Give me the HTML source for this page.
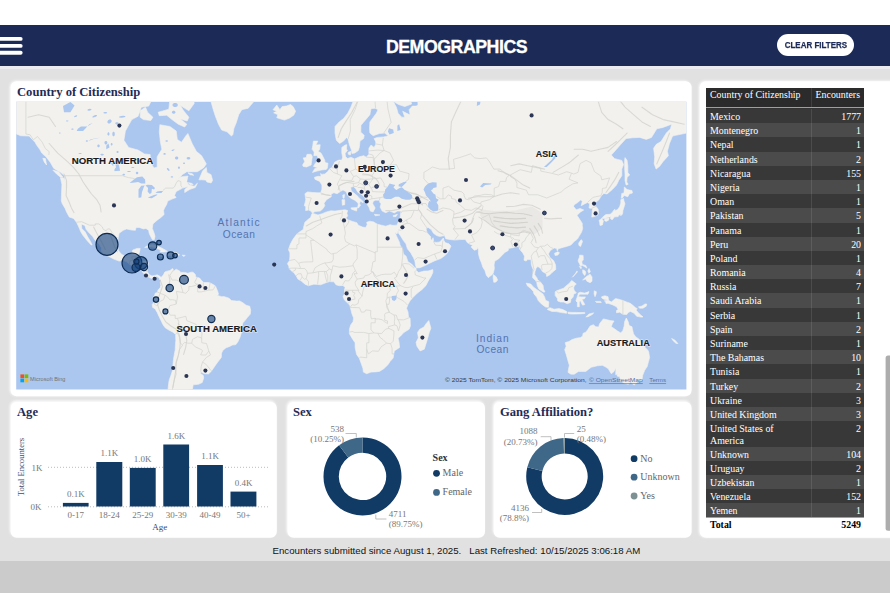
<!DOCTYPE html>
<html lang="en">
<head>
<meta charset="utf-8">
<title>Demographics</title>
<style>
*{box-sizing:border-box;margin:0;padding:0}
html,body{width:890px;height:593px;overflow:hidden;background:#fff}
body{position:relative;font-family:"Liberation Sans",sans-serif}
.abs{position:absolute}
#bg1{left:0;top:66px;width:890px;height:495px;background:#e1e1e1}
#bg2{left:0;top:561px;width:890px;height:32px;background:#cbcbcb}
#hdr{left:0;top:25px;width:890px;height:41px;background:#1b2a56}
.bar{position:absolute;left:-2px;width:24px;height:3.7px;border-radius:2px;background:#fff}
#ttl{left:0;width:890px;top:35.8px;-webkit-text-stroke:.3px #fff;text-align:center;color:#fff;font-weight:bold;font-size:17.8px;line-height:22px;letter-spacing:-0.5px;padding-left:23px}
#btn{left:777px;top:34px;width:77px;height:22px;border-radius:11px;background:#fff;color:#1b2a56;font-weight:bold;font-size:9.2px;line-height:22.6px;text-align:center;white-space:nowrap;-webkit-text-stroke:.25px #1b2a56}
.card{position:absolute;background:#fff;border-radius:6px}
.h{position:absolute;font-family:"Liberation Serif",serif;font-weight:bold;font-size:12.6px;line-height:14px;color:#1f2b55;white-space:nowrap}
.ser{font-family:"Liberation Serif",serif}
/* table */
#tbl{left:706px;top:88px;width:158px;font-family:"Liberation Serif",serif;font-size:9.9px;color:#fff}
#th{height:19.5px;background:#2b2b2b;border-bottom:1px solid #7aa7d6;position:relative;line-height:12px}
#th .c1{position:absolute;left:4px;top:1px}
#th .c2{position:absolute;right:4px;top:1px}
#th:after,.ra:after,.rb:after{content:"";position:absolute;left:105px;top:0;bottom:0;width:1px;background:rgba(255,255,255,.10)}
.ra,.rb{position:relative;height:14.2px;line-height:15.3px;white-space:nowrap;overflow:hidden}
#sp{height:1.5px;background:#333}
.ra{background:#383838}.rb{background:#4b4b4b}
.ra .c1,.rb .c1{position:absolute;left:4px;top:0}
.ra .c2,.rb .c2{position:absolute;right:3px;top:0}
.dbl{height:25.4px;line-height:12.2px;white-space:normal}
.dbl .c1{top:1.6px}.dbl .c2{top:1.6px}
#tot{position:relative;height:14px;line-height:14px;color:#000;font-weight:bold;background:#fff;border-top:1px solid #7aa7d6}
#tot .c1{position:absolute;left:4px}#tot .c2{position:absolute;right:3px}
#sb{left:885px;top:357px;width:5px;height:173px;background:#b3b3b3}
/* chart text */
.t{position:absolute;font-family:"Liberation Serif",serif;font-size:9px;line-height:10px;color:#777;white-space:nowrap}
.lg{position:absolute;font-family:"Liberation Serif",serif;font-size:10px;line-height:12px;color:#666;white-space:nowrap}
.brr{position:absolute;background:#113a65}
.grid{position:absolute;left:48px;width:222px;height:0;border-top:1px dotted #b9b9b9}
#foot{left:0;top:544px;width:890px;font-size:9.69px;line-height:13px;color:#111;white-space:pre;padding-left:272.5px}
svg text{font-family:"Liberation Sans",sans-serif}
</style>
</head>
<body>
<div class="abs" id="bg1"></div>
<div class="abs" id="bg2"></div>
<div class="abs" id="hdr"></div>
<div class="abs" style="left:0;top:66px;width:890px;height:3px;background:#ebebf0"></div>
<div class="abs" id="ttl">DEMOGRAPHICS</div>
<div class="abs" id="btn"><span style="display:inline-block;transform:scaleX(.868);transform-origin:50% 50%;margin:0 -8px">CLEAR FILTERS</span></div>

<!-- cards + map -->
<svg class="abs" style="left:0;top:0" width="890" height="593" viewBox="0 0 890 593">
<filter id="cs1" x="-5%" y="-5%" width="110%" height="110%"><feDropShadow dx="-0.9" dy="-0.4" stdDeviation="0.8" flood-color="#fff" flood-opacity=".9"/></filter>
<filter id="cs2" x="-5%" y="-8%" width="110%" height="116%"><feDropShadow dx="-0.9" dy="-1.5" stdDeviation="0.9" flood-color="#fff" flood-opacity=".9"/></filter>
<g fill="#fff" filter="url(#cs1)">
<rect x="10.7" y="81.3" width="680.9" height="314.9" rx="6"/>
<rect x="699.8" y="81.3" width="210" height="456.5" rx="6"/>
</g>
<g fill="#fff" filter="url(#cs2)">
<rect x="10.7" y="402.1" width="266.1" height="135.7" rx="6"/>
<rect x="287.5" y="402.1" width="197.5" height="135.7" rx="6"/>
<rect x="493.7" y="402.1" width="197.9" height="135.7" rx="6"/>
</g>
<g fill="#fff"><rect x="-3" y="36.9" width="25.6" height="3.9" rx="1.9"/><rect x="-3" y="43.95" width="25.6" height="3.9" rx="1.9"/><rect x="-3" y="50.8" width="25.6" height="3.9" rx="1.9"/></g>
<path d="M48 467.3H270M48 506.8H270" stroke="#bcbcbc" stroke-width="1" stroke-dasharray="1 2" fill="none"/>
<g fill="#113a65"><rect x="62.9" y="502.9" width="25.7" height="3.6"/><rect x="96.3" y="462.0" width="26.0" height="44.5"/><rect x="129.8" y="467.9" width="25.9" height="38.6"/><rect x="163.3" y="444.5" width="25.8" height="62.0"/><rect x="197.1" y="465.0" width="25.8" height="41.5"/><rect x="230.5" y="491.6" width="25.9" height="14.9"/></g>
<rect x="885.6" y="355.4" width="8" height="175.4" rx="2.5" fill="#adadad"/>
<clipPath id="mc"><rect x="16.2" y="101.7" width="670.2" height="287.8"/></clipPath>
<g clip-path="url(#mc)">
<rect x="0" y="90" width="700" height="310" fill="#abc7ef"/>
<filter id="bl" x="0" y="0" width="890" height="593" filterUnits="userSpaceOnUse"><feGaussianBlur stdDeviation="0.45"/></filter>
<g filter="url(#bl)">
<path d="M-31.3 109.2L-22.8 104.5L-18.6 101.9L-27.0 94.6L-18.6 82.6L-6.9 76.2L6.8 81.4L25.9 86.9L38.6 88.8L53.4 83.3L66.1 85.7L80.9 96.3L95.8 95.2L112.7 97.4L121.2 94.6L124.3 72.8L129.6 87.6L138.1 96.3L142.3 97.4L150.8 86.9L152.3 99.1L148.7 106.1L141.3 107.2L138.1 116.2L131.8 119.6L125.4 131.0L123.9 140.2L128.6 147.4L138.1 150.1L144.5 153.9L150.2 154.6L150.4 162.2L154.0 168.1L157.2 167.0L157.2 156.8L161.8 149.3L160.3 141.5L159.3 131.8L159.9 124.7L169.9 126.5L176.2 131.0L177.3 139.4L181.5 142.3L185.7 136.1L187.9 133.5L192.1 143.5L196.3 151.3L201.6 155.7L206.3 163.9L203.7 167.7L197.4 171.7L186.8 171.7L182.6 174.4L177.3 179.5L180.4 176.9L187.9 176.0L186.8 181.4L188.9 185.1L194.2 186.3L197.4 183.2L195.3 187.5L190.0 189.3L184.7 192.5L184.7 189.6L187.9 186.6L182.6 188.1L176.2 191.6L174.5 195.4L176.2 197.4L172.0 199.1L167.7 201.1L166.7 204.4L164.6 207.9L163.5 210.6L164.1 214.5L161.4 217.1L157.2 220.2L152.9 223.9L152.3 228.4L154.0 232.7L155.0 236.3L154.2 239.8L152.5 239.8L150.8 236.8L149.1 233.2L148.7 230.3L145.9 228.4L143.4 228.9L139.2 227.4L136.0 227.6L135.4 230.3L131.8 230.1L126.5 228.9L123.3 230.3L119.1 233.2L118.2 238.0L117.4 244.9L118.4 250.6L121.2 254.0L124.3 255.8L129.6 254.9L131.8 254.0L132.8 250.0L137.0 248.4L140.2 248.4L139.2 252.9L138.1 255.1L137.5 259.6L136.4 261.1L142.3 261.1L146.6 261.1L148.3 262.9L147.6 267.2L147.2 271.6L149.1 274.6L151.9 275.9L155.0 275.4L157.2 274.8L160.3 276.5L160.8 278.0L160.3 279.5L158.6 277.6L156.1 276.1L154.4 279.5L151.9 278.6L148.7 277.2L144.9 274.2L142.8 272.6L141.3 269.4L139.0 266.8L134.9 266.2L130.7 265.1L126.5 261.8L123.3 260.5L119.1 261.1L113.8 259.1L108.5 256.2L104.2 254.0L101.1 251.3L101.5 247.9L98.9 243.8L94.7 239.8L92.6 236.3L89.4 233.2L86.2 229.6L84.8 225.4L81.4 224.2L81.8 228.4L85.2 232.0L87.7 236.8L90.5 241.5L92.2 244.9L91.1 244.9L87.3 240.8L83.1 235.6L80.9 232.0L78.8 227.1L76.5 222.2L73.5 218.4L69.3 217.1L66.5 211.9L65.1 208.4L62.3 203.8L61.3 201.1L61.5 194.0L61.9 184.5L60.4 177.6L64.0 178.2L65.1 181.1L64.4 175.7L60.8 172.4L53.8 168.4L50.2 162.2L46.0 156.8L41.8 153.1L39.7 149.3L36.9 145.5L35.0 142.3L32.3 139.4L29.1 136.1L20.6 135.7L15.3 133.5L9.0 131.0L3.7 138.6L-0.6 139.4L-2.7 145.5L-10.1 149.3L-18.6 155.0L-24.9 156.8L-18.6 151.3L-11.1 141.5L-18.6 139.4L-23.8 133.1L-27.0 128.8L-23.8 121.9L-16.4 114.7L-27.0 114.7ZM159.3 115.7L166.7 115.2L172.0 119.6L178.3 124.2L184.7 127.0L186.8 124.2L180.4 119.1L187.2 121.0L188.9 117.2L183.6 110.8L180.4 105.6L188.9 110.8L194.2 103.5L193.1 96.3L180.4 84.5L159.3 64.4L133.9 60.8L136.0 78.2L144.5 84.5L155.0 85.7L165.6 93.5L169.9 99.1L168.8 109.2L158.2 112.3ZM140.2 110.8L145.5 107.2L147.6 112.3L152.9 117.2L150.8 120.5L143.4 119.6L140.2 117.2ZM198.9 179.8L202.7 170.7L206.3 167.4L206.9 172.4L211.1 174.7L212.6 180.4L211.1 182.9L206.9 182.0L205.8 180.1L201.6 179.8ZM52.8 170.1L58.7 171.7L63.0 177.3L60.2 176.9L56.6 174.0ZM231.5 136.1L227.0 131.8L221.7 130.1L218.5 124.2L215.4 116.2L213.3 109.7L211.1 101.9L210.1 90.5L216.4 84.5L209.0 78.2L205.8 64.4L201.6 44.9L184.7 36.1L176.2 26.7L180.4 5.4L197.4 -20.3L229.1 -35.5L260.9 -52.9L282.1 -27.7L286.3 -0.5L284.2 31.5L279.9 49.1L277.8 68.0L273.6 78.2L276.8 82.6L269.4 91.7L260.9 95.2L254.5 100.8L248.2 108.2L241.8 109.7L238.7 114.7L236.5 121.9L233.8 128.8L232.9 134.4ZM273.0 109.7L276.8 105.1L279.9 109.7L282.1 106.6L286.3 106.1L290.5 104.5L293.1 106.6L295.6 111.3L293.7 115.2L289.5 118.1L284.6 120.1L281.0 119.1L276.8 117.7L277.8 114.7L273.6 112.8L276.8 111.3ZM313.4 141.1L317.8 141.1L315.9 145.1L320.2 144.7L319.7 149.3L318.0 151.3L321.0 153.1L323.3 157.2L324.8 160.4L325.0 162.5L328.0 163.2L327.4 168.1L326.3 169.4L321.2 170.1L317.0 171.1L312.5 172.4L314.9 168.4L318.0 167.7L313.4 166.4L315.5 162.9L318.0 160.8L318.0 157.9L317.0 155.4L313.8 155.7L314.2 152.0L312.1 149.3L312.8 145.5ZM303.2 166.4L306.4 167.0L311.1 165.0L311.7 161.1L312.3 156.5L311.1 154.3L307.0 154.3L306.2 157.6L303.2 157.9L304.7 161.5L302.6 165.0ZM312.5 213.2L310.9 211.1L308.7 210.0L305.6 210.6L305.8 206.6L304.3 205.7L305.8 199.7L304.9 193.7L307.5 191.9L312.8 192.5L318.0 192.8L320.6 192.8L321.9 189.3L321.9 185.1L319.7 181.4L314.9 179.2L314.5 177.3L318.0 176.3L321.0 176.6L320.6 173.4L321.9 174.4L324.8 174.0L327.6 171.7L329.7 168.7L331.8 167.7L333.9 163.9L334.6 162.2L337.1 160.8L339.2 160.1L341.8 160.1L342.6 157.2L341.8 153.1L341.8 147.4L345.1 145.1L346.8 144.7L346.4 149.3L347.5 150.1L345.1 153.5L345.6 156.8L347.7 158.6L350.9 157.2L354.5 159.0L359.3 156.8L363.6 155.7L366.3 157.2L368.9 154.3L368.9 148.2L371.0 145.1L374.1 147.4L375.8 144.3L375.8 141.9L374.1 138.6L377.3 137.4L383.7 136.9L388.3 135.7L384.7 133.1L379.4 133.5L373.1 135.7L369.9 133.1L369.5 128.8L369.9 121.9L376.3 113.3L378.0 109.7L375.2 108.2L371.0 108.7L369.9 114.7L364.6 121.0L361.0 125.2L360.8 132.3L364.2 135.3L363.6 138.6L360.0 141.1L359.3 147.4L358.3 150.5L354.7 153.1L351.9 153.5L351.5 150.1L349.4 144.7L348.1 139.4L346.6 137.4L343.5 141.1L339.6 143.5L336.3 140.2L335.0 133.1L335.0 126.5L339.2 121.9L343.5 118.6L347.7 113.3L350.9 107.2L354.0 99.1L357.2 93.5L362.5 86.9L368.9 83.9L378.4 77.5L383.7 79.4L390.0 83.3L394.3 88.2L400.6 89.4L410.1 98.0L411.6 104.0L404.8 106.6L398.5 104.5L393.2 101.3L396.4 107.2L398.1 113.3L401.7 117.2L404.8 117.2L402.7 111.3L408.7 114.3L410.1 114.7L409.1 109.7L412.3 106.1L416.5 106.1L418.0 104.5L417.5 96.3L422.8 96.3L436.6 93.5L451.4 84.5L472.6 64.4L493.8 57.0L536.1 21.7L567.9 57.0L620.8 64.4L663.1 81.4L694.9 84.5L705.5 90.5L705.5 124.2L694.9 126.5L686.4 133.1L675.8 135.3L672.6 136.1L669.5 143.5L667.4 151.3L668.4 155.7L663.1 161.5L659.5 166.4L656.1 169.1L654.2 163.9L654.7 156.8L653.6 148.2L656.3 144.3L661.0 141.5L666.3 133.1L670.5 128.8L671.6 124.2L663.1 127.4L656.8 128.8L651.5 137.4L646.2 139.4L639.8 137.4L632.4 137.8L626.1 138.6L620.8 144.3L616.5 149.3L611.3 155.0L614.4 158.6L617.6 159.4L621.8 160.4L623.5 164.6L621.8 169.1L621.8 175.7L618.7 180.4L616.5 185.1L612.3 189.6L607.0 194.0L603.8 193.4L601.1 196.0L599.0 199.7L595.4 202.5L594.3 204.4L598.1 209.2L598.6 213.2L597.5 215.3L594.3 216.6L591.8 217.1L592.2 211.9L592.6 208.7L589.0 207.9L589.7 203.8L587.5 202.5L584.8 203.8L581.2 205.7L582.3 201.1L580.6 200.0L577.4 202.7L574.2 204.7L573.6 206.6L576.3 209.8L580.1 208.4L583.7 210.0L580.6 211.9L577.0 215.3L579.1 218.4L582.3 223.4L582.3 225.9L582.7 228.4L581.6 232.0L579.5 235.6L577.4 239.1L574.2 241.5L571.0 244.9L566.4 246.5L563.6 247.2L558.3 248.8L557.3 251.1L556.6 248.4L554.1 247.9L550.3 250.6L548.4 254.0L549.9 257.4L553.7 260.7L555.6 265.1L555.8 269.4L552.0 272.6L549.9 274.8L546.7 276.5L546.3 273.7L542.5 271.6L540.3 268.3L537.8 266.4L536.1 268.3L535.0 271.6L534.6 274.8L536.7 277.4L537.8 280.1L540.3 281.8L543.1 285.5L543.5 289.1L545.0 292.0L543.3 292.0L538.9 289.1L537.2 285.5L536.7 282.3L535.5 280.6L532.5 277.6L532.9 273.7L533.1 269.4L531.4 265.1L531.0 259.6L527.6 259.6L526.2 261.1L524.0 260.2L524.5 256.2L522.8 252.9L519.8 249.5L518.7 246.3L516.0 246.8L512.8 247.7L508.6 248.4L508.2 250.6L504.8 252.4L501.2 256.2L498.4 259.1L494.8 261.1L494.0 265.1L494.4 268.3L493.3 273.1L491.6 275.2L489.9 276.3L488.5 277.8L486.4 275.4L484.9 270.5L482.8 267.2L481.5 262.9L479.6 258.5L478.5 254.0L478.3 249.5L477.9 247.5L476.8 249.5L474.3 250.2L470.9 246.8L473.0 245.4L470.0 244.3L467.3 242.6L466.2 240.8L465.2 239.4L459.9 239.6L454.6 240.1L449.3 239.4L445.7 238.7L444.6 235.6L439.8 236.5L436.6 235.6L433.4 233.2L431.3 229.6L428.1 227.4L426.0 228.4L426.4 230.1L427.1 232.7L429.2 235.1L430.7 236.8L430.7 239.1L431.9 240.3L433.0 237.7L433.6 240.3L433.0 241.9L436.6 242.4L439.8 241.9L443.4 238.0L443.8 240.3L445.1 242.6L448.9 243.8L451.0 246.1L448.9 250.6L446.6 254.0L444.0 256.2L440.8 258.5L434.9 260.7L430.2 262.9L426.0 265.1L420.1 267.7L416.5 267.9L415.4 265.1L414.8 260.7L413.3 257.4L410.8 252.9L407.4 248.8L405.9 243.8L403.2 240.3L400.6 236.1L398.5 233.2L398.3 229.6L397.4 233.2L396.8 233.9L394.7 232.0L393.4 228.6L392.8 225.4L396.8 225.2L398.3 222.2L400.2 217.1L400.6 213.2L401.0 211.1L397.4 211.1L394.3 212.9L392.1 211.9L389.2 211.1L385.8 212.7L382.2 211.1L380.1 207.1L381.1 203.8L379.9 202.5L379.4 200.2L375.2 200.2L373.1 201.6L372.7 203.8L375.2 207.9L373.1 211.9L370.3 211.1L368.9 207.1L366.3 203.0L365.0 198.3L362.9 195.4L357.8 192.2L355.7 188.7L353.4 186.6L350.7 187.2L351.3 191.1L354.0 193.1L358.1 196.6L358.7 197.4L363.6 201.9L362.9 202.7L360.4 201.1L359.5 203.8L360.6 205.2L358.5 207.9L357.6 207.9L358.3 203.8L357.2 202.2L354.7 200.2L350.9 198.3L347.7 195.4L346.0 191.6L343.0 189.9L340.3 191.6L337.1 193.7L333.9 192.8L331.2 194.0L331.2 196.8L326.5 199.7L324.0 203.3L324.8 205.7L322.9 208.7L320.2 211.1L314.9 211.6ZM311.9 213.7L313.2 213.5L318.0 215.0L322.3 213.7L326.5 211.9L330.8 210.8L335.0 211.1L340.3 210.3L345.1 209.8L347.7 210.6L346.8 213.2L347.7 215.8L346.0 217.9L347.7 219.7L351.9 221.2L356.8 222.7L358.3 225.2L362.5 227.1L365.7 227.6L367.2 224.7L366.7 222.2L369.9 221.2L373.7 221.9L377.3 224.2L381.6 225.2L385.8 226.2L390.0 224.7L392.8 225.4L393.4 228.6L395.3 233.2L397.4 238.0L399.6 242.6L400.0 244.9L402.7 249.5L403.4 254.0L406.1 256.2L408.0 261.8L411.6 264.0L414.4 267.2L416.1 268.3L416.1 270.5L418.6 272.6L423.9 271.1L428.1 270.9L432.8 269.6L432.8 272.6L431.3 275.9L428.1 281.2L426.0 285.5L421.8 289.7L417.5 292.9L413.3 297.1L410.1 300.7L408.0 304.5L406.5 308.2L408.0 312.0L408.4 316.3L410.1 318.4L410.4 326.0L409.1 329.3L403.8 332.6L400.6 336.0L398.1 338.2L399.1 342.8L399.6 347.4L394.3 350.9L393.8 353.9L393.2 358.0L390.0 361.6L387.9 364.8L383.7 368.8L379.4 371.4L375.2 371.9L371.0 372.1L366.7 373.7L363.4 372.1L362.9 368.3L361.0 362.9L359.3 358.2L356.6 354.4L355.1 347.4L355.1 342.8L352.8 339.4L349.4 333.8L349.4 329.3L350.7 324.9L353.0 321.7L353.6 318.0L351.9 313.7L350.4 307.7L349.8 305.2L347.7 303.1L344.5 300.1L343.0 296.5L344.5 293.9L344.5 289.7L345.1 287.6L343.0 285.5L339.2 285.7L336.0 284.8L333.9 281.8L329.7 281.6L326.5 282.5L320.6 284.8L318.0 284.4L313.8 284.2L308.5 285.7L305.3 284.4L301.5 281.2L297.9 279.1L296.2 275.9L293.7 272.6L292.2 271.6L289.0 268.5L288.8 266.2L287.4 263.5L289.5 260.7L289.9 256.2L289.9 252.9L288.4 249.5L290.5 243.8L293.1 239.1L296.9 233.9L300.5 231.3L303.2 229.6L303.9 225.9L304.9 222.2L308.5 219.1L310.6 217.6ZM428.8 320.6L430.9 328.2L429.2 332.6L427.7 338.2L424.3 349.2L420.1 350.9L416.9 346.2L416.1 342.3L418.4 337.8L417.5 332.6L419.7 329.3L423.9 327.1L426.0 323.8ZM161.4 276.9L163.5 274.8L164.6 272.2L166.0 271.4L169.9 270.5L172.6 268.5L173.5 270.3L172.4 272.0L176.2 269.2L179.8 271.1L180.4 272.4L184.7 272.4L187.9 273.3L191.0 272.2L193.1 272.2L195.3 274.4L195.7 276.9L199.5 278.0L201.6 280.6L203.7 282.5L208.0 282.5L210.1 282.9L213.3 284.6L215.4 285.9L217.5 290.8L218.5 293.9L217.5 295.4L221.7 296.7L223.8 296.5L229.1 298.2L231.3 300.5L236.5 301.1L239.7 300.9L242.9 302.8L246.1 305.2L249.7 306.2L250.7 310.3L250.3 314.1L247.1 317.8L245.0 320.6L242.9 322.8L241.8 327.1L241.4 332.6L240.1 337.1L238.0 341.6L235.9 344.6L232.3 345.1L229.1 346.7L226.0 347.8L222.8 350.4L221.5 353.2L221.3 357.5L218.5 361.1L215.8 364.8L213.7 367.8L211.1 371.6L208.4 373.9L204.8 373.7L202.7 372.9L200.8 371.6L200.6 373.4L203.3 375.5L203.7 378.1L202.2 382.6L198.4 384.3L193.1 384.8L192.5 388.9L186.8 390.3L187.9 394.6L186.2 397.5L185.7 401.9L181.5 404.9L184.7 409.6L181.5 416.0L178.3 420.9L179.4 425.7L173.0 430.6L167.7 424.3L164.6 414.3L164.4 406.5L168.8 398.9L167.7 394.6L168.2 387.5L168.8 382.1L169.4 379.4L170.9 375.5L172.6 370.3L173.0 364.1L173.5 359.2L174.3 354.4L175.2 349.7L175.4 345.1L175.8 340.5L175.6 334.6L173.0 332.2L168.8 330.0L165.2 327.8L162.9 324.5L161.0 320.6L158.9 316.3L157.2 312.4L155.0 308.8L152.5 307.3L152.3 304.3L154.2 302.2L155.0 300.3L152.9 299.7L153.3 297.1L154.8 295.0L155.0 293.3L157.2 292.5L157.6 291.2L158.2 289.7L160.3 287.6L160.8 285.5L160.3 282.9L160.5 280.6L159.5 279.5L160.3 278.0ZM565.1 342.8L566.2 346.2L564.7 349.7L566.2 354.4L567.9 360.4L569.3 365.3L568.3 370.3L568.1 372.4L571.0 374.2L574.2 374.2L578.4 371.4L585.8 371.4L591.1 367.3L597.5 365.8L602.2 365.3L604.9 366.6L608.1 368.6L611.3 373.7L614.0 371.6L615.9 368.1L615.7 374.7L617.6 373.9L617.0 376.0L619.7 376.8L620.8 380.8L624.0 383.2L628.2 384.3L630.7 382.1L634.1 385.1L637.7 381.8L642.0 380.2L642.6 375.5L644.7 370.3L647.2 366.6L648.5 361.6L649.6 357.5L648.7 352.0L647.9 350.2L645.1 347.4L643.6 344.1L640.9 342.8L639.4 339.4L635.6 336.7L633.5 333.8L632.4 329.3L632.0 326.7L629.2 325.6L628.2 321.7L626.3 318.0L624.6 321.7L624.2 326.0L622.9 330.4L620.8 332.9L617.6 331.1L614.4 328.7L611.3 326.7L612.3 323.8L614.0 321.0L610.2 320.6L606.0 319.5L603.4 318.9L601.7 321.0L599.6 323.8L598.6 326.9L595.8 326.7L593.3 324.7L590.1 326.0L588.0 329.3L585.8 332.2L583.1 333.3L582.7 336.0L580.6 337.6L576.3 338.2L572.1 339.6L568.9 341.6L566.2 342.3ZM630.7 389.5L634.5 390.6L638.4 390.0L638.1 393.7L636.7 397.5L633.5 397.8L631.8 394.0ZM601.7 296.7L604.9 295.8L608.1 296.7L608.5 300.3L611.3 302.0L615.5 298.6L618.7 299.2L622.9 300.5L627.1 302.2L630.3 303.3L633.1 305.6L635.6 307.7L637.3 308.8L636.0 309.9L638.1 312.4L640.9 315.2L643.0 316.9L640.9 317.1L636.7 316.3L633.9 313.1L630.3 311.4L628.2 312.6L626.7 314.6L622.9 314.3L619.7 312.2L616.5 312.8L616.5 310.5L618.2 309.4L616.5 306.7L612.3 304.7L608.1 303.3L606.0 303.5L605.5 301.4L604.3 300.9L607.7 299.9L603.8 299.2L601.7 298.0ZM638.4 306.9L642.0 306.0L645.1 303.9L646.8 304.1L646.2 306.2L643.0 308.2L639.8 308.2ZM555.2 291.8L556.6 290.8L560.0 289.5L563.6 288.2L566.8 285.3L568.9 283.8L571.7 280.4L573.1 281.6L576.3 284.0L574.2 285.9L573.6 288.0L574.2 290.3L576.3 292.9L573.8 293.9L573.1 297.1L571.0 299.2L570.4 302.4L567.2 303.7L563.6 302.0L560.4 302.0L557.7 300.9L557.3 298.2L555.2 295.6ZM526.2 283.1L530.8 284.0L533.3 286.9L536.7 289.5L539.3 291.2L542.9 293.9L544.6 297.1L545.6 300.3L548.8 301.8L548.4 307.3L545.6 307.1L541.4 303.9L538.2 300.5L536.7 297.1L534.0 293.9L533.3 291.4L530.8 288.6L527.6 286.1ZM547.1 309.4L549.9 307.7L554.1 309.2L559.0 308.6L562.8 309.6L566.8 311.6L566.6 313.3L561.5 312.6L556.2 311.6L552.0 311.4L549.6 310.5ZM567.9 312.2L572.1 312.4L576.3 312.4L580.6 312.6L584.8 312.4L584.8 313.5L578.4 313.9L572.1 314.1L568.3 313.7ZM585.8 316.9L589.0 314.1L593.7 312.8L592.2 314.6L588.0 316.7ZM578.0 293.3L580.1 292.2L584.8 293.1L589.0 291.6L588.0 294.2L583.7 294.2L579.5 294.2L578.4 296.7L581.6 296.9L585.4 296.9L584.4 298.8L582.0 299.2L583.3 301.8L584.8 304.5L582.7 305.2L581.6 303.5L580.6 300.9L579.3 301.4L579.3 306.7L577.4 306.7L577.4 302.4L575.9 300.9L577.0 297.5L578.0 294.6ZM594.3 290.8L596.4 291.8L596.0 294.4L595.0 296.7L594.1 293.9ZM595.4 301.4L600.7 301.4L601.3 302.6L596.4 302.4ZM579.7 255.1L583.1 255.4L583.3 259.6L581.8 261.8L582.3 264.4L585.8 265.5L586.9 268.1L584.8 266.8L582.7 265.5L580.1 265.5L579.7 264.0L578.4 261.8L578.2 260.0L579.3 257.4ZM582.7 280.1L585.8 276.9L590.1 274.2L592.0 276.9L592.0 281.2L590.1 282.7L586.9 281.2L585.8 279.1ZM589.0 268.5L590.3 271.6L589.0 273.3L587.8 271.1ZM582.7 269.8L585.2 270.9L585.8 273.1L584.8 275.4L583.5 274.2L582.7 272.4ZM572.5 277.2L577.4 272.0L577.0 270.9L575.3 273.7ZM579.3 266.4L581.4 266.8L581.0 268.8ZM581.6 239.8L582.5 241.5L580.6 246.5L578.9 245.4L578.7 243.1L580.6 240.3ZM554.5 253.3L557.9 251.8L559.4 252.7L557.9 255.1L555.2 255.6ZM493.3 274.6L496.3 276.9L497.6 280.1L495.9 282.1L493.8 282.3L493.1 278.0ZM599.0 220.4L601.7 218.6L603.4 220.9L602.4 224.9L600.0 225.4L599.6 222.2ZM604.9 218.4L609.1 217.9L608.5 220.2L606.0 221.4L604.5 220.4ZM601.5 218.4L603.8 216.1L606.0 214.5L610.2 214.3L612.3 212.4L614.0 210.0L615.1 209.2L614.4 211.1L617.6 209.5L619.7 206.6L620.8 203.0L620.8 199.7L623.5 198.5L624.0 201.1L625.0 203.8L624.0 207.1L622.9 210.6L622.5 214.0L620.8 215.8L620.4 214.5L618.7 215.3L618.2 216.6L616.5 216.8L614.4 216.8L614.0 217.6L612.3 219.7L610.6 218.9L610.6 216.8L607.0 217.4L604.3 218.4ZM621.2 198.3L621.8 193.4L624.0 193.1L624.4 186.9L627.1 189.6L632.0 190.5L632.4 193.1L629.2 194.0L627.8 196.8L624.0 195.4L622.9 197.4ZM625.0 157.6L627.1 160.4L627.8 165.7L627.8 172.4L629.7 175.0L627.1 177.3L626.7 182.0L628.2 184.2L626.1 185.1L625.0 180.4L625.0 174.0L624.6 167.4L624.6 161.1ZM671.6 338.5L674.8 340.0L677.9 343.5L676.2 343.5L673.3 340.9ZM144.7 247.5L148.7 244.9L152.9 244.5L157.2 246.1L161.4 247.9L165.6 250.2L167.3 251.3L164.6 252.0L159.9 252.0L161.0 250.4L158.2 249.1L155.0 247.7L151.2 246.8L147.6 247.2ZM166.9 255.4L169.9 252.0L172.6 252.2L176.2 252.4L179.6 254.9L176.2 255.6L173.0 256.9L170.9 255.8ZM158.6 255.4L162.9 255.8L161.4 256.7ZM182.1 255.1L185.3 255.4L183.6 256.5ZM350.9 207.9L357.2 207.4L356.6 211.1L351.5 209.2ZM342.0 199.7L344.7 199.7L344.7 204.7L342.4 205.2ZM342.8 195.1L344.5 194.6L344.1 198.3L343.0 198.0ZM374.4 214.3L379.9 215.0L375.2 215.8ZM393.0 215.8L397.4 214.3L396.0 216.6L393.4 216.6ZM348.1 152.4L350.9 151.3L350.4 155.0L348.3 154.3ZM187.9 172.7L192.1 173.7L193.8 175.3L190.0 174.7ZM188.3 182.6L192.1 183.5L193.1 184.5L190.0 184.8ZM42.8 158.3L45.4 158.6L46.6 165.0L44.3 162.2Z" fill="#f2f1ee" stroke="#f2f1ee" stroke-width="0.6" stroke-linejoin="round"/>
<filter id="tb" x="0" y="0" width="890" height="593" filterUnits="userSpaceOnUse"><feGaussianBlur stdDeviation="0.7"/></filter>
<g filter="url(#tb)"><path d="M481.1 209.2L493.8 211.1L514.9 210.6L531.9 206.6L542.5 213.2L542.5 228.4L534.0 234.4L525.5 232.0L514.9 233.7L504.3 232.7L493.8 227.1L485.3 220.9L480.0 215.8Z" fill="#6e6e66" fill-opacity=".07"/><path d="M478.9 217.1L485.3 220.9L491.6 225.9L498.0 229.3L504.3 232.2L510.7 233.7L517.0 233.7L523.4 231.8L529.7 233.2M476.8 211.9L483.2 213.2L489.5 213.7L498.0 212.7L506.5 212.4L514.9 213.2L523.4 213.7L531.9 215.8M506.5 206.6L514.9 206.3L523.4 204.4L531.9 205.2L540.3 209.2M468.4 198.3L476.8 196.8L485.3 196.8L493.8 196.8L502.2 194.0L510.7 192.8L519.2 194.0M453.5 217.9L459.9 217.1L466.2 215.8L472.6 213.2L476.8 209.2L481.1 205.7M465.2 228.4L468.4 225.9L472.2 222.2L473.6 218.4M418.6 209.2L421.8 214.5L426.0 219.7L430.2 224.7L434.5 228.4L438.7 232.0L443.0 234.2M427.1 209.2L431.3 211.9L436.6 213.2L443.0 210.6M404.8 190.5L411.2 193.1L417.5 194.8L423.9 198.3L428.1 200.2M385.8 210.6L392.1 210.6L398.5 209.2L404.8 206.6L411.2 203.8L417.5 203.8M498.0 170.7L504.3 172.4L510.7 175.7L517.0 180.4L523.4 185.1L529.7 188.1M510.7 165.7L519.2 163.9L527.6 165.7L536.1 167.4L544.6 169.1M529.7 228.4L532.9 233.2L535.0 238.0L536.1 242.6M534.0 225.9L537.2 230.8L539.3 235.6M538.2 223.4L541.4 228.4L542.5 233.2M493.8 220.9L502.2 222.2L510.7 223.4L519.2 222.9L527.6 222.2M493.8 217.1L504.3 218.4L514.9 218.9L525.5 218.4M500.1 225.9L508.6 227.1L517.0 227.9L525.5 227.1M544.6 218.4L550.9 218.9L557.3 218.4L561.5 218.4M595.4 84.5L597.5 99.1L601.7 112.3L608.1 119.6L616.5 124.2L622.9 128.8M616.5 96.3L625.0 107.2L633.5 114.7L642.0 121.9L650.4 126.5M642.0 107.2L652.5 114.7L663.1 119.6L673.7 121.9L684.3 124.2M574.2 149.3L582.7 149.3L591.1 151.3L599.6 149.3L608.1 147.4L616.5 141.5M608.1 151.3L614.4 145.5L620.8 139.4L627.1 133.1M656.8 163.9L659.9 156.8L663.1 149.3L666.3 141.5L669.5 133.1M606.0 192.5L610.2 186.6L614.4 180.4L618.7 172.4M553.0 172.4L561.5 167.4L570.0 162.2L578.4 155.0M449.3 169.1L448.2 158.6L450.4 147.4L450.4 135.3L451.4 121.9L455.7 112.3L462.0 99.1M338.2 189.6L339.2 185.7L343.5 183.5L348.7 182.0L354.0 181.4M362.5 174.7L368.9 175.0L375.2 177.9L378.4 182.0L379.4 185.7L375.2 186.6L372.0 187.5M338.2 137.4L341.3 128.8L345.6 121.9L351.9 112.3L357.2 101.9M321.2 194.0L325.5 194.8L329.7 195.4M306.4 225.9L312.8 222.2L320.2 219.7L327.6 217.1L335.0 214.5L341.3 213.2M402.7 265.1L405.9 270.5L408.0 275.9L405.9 280.1L403.8 283.3M49.2 143.5L57.7 153.1L66.1 160.4L73.5 167.4L78.8 174.0L83.1 182.0L87.3 188.1L91.5 194.0L96.8 199.7L100.0 205.2L101.1 211.9M64.0 174.0L66.5 180.4L66.5 188.1L66.1 195.4L69.3 202.5L71.4 207.9L74.0 212.7M93.6 227.1L96.8 233.2L100.0 239.1L103.2 244.9L105.3 249.5M110.6 235.6L112.7 241.5L114.8 247.2L117.4 251.8M28.0 117.2L38.6 114.7L49.2 117.2L55.5 126.5M160.3 280.1L162.4 286.5L160.3 292.9L158.2 298.2L157.2 303.5L159.3 309.9L162.4 316.3L165.6 321.7L170.9 326.0L176.2 329.3L179.4 334.9L180.4 341.6L179.8 348.5L178.3 355.6L176.2 362.9L175.8 370.3L174.5 378.1L173.0 387.5M168.8 274.8L169.9 280.1L168.8 285.5L165.6 289.7M178.3 323.8L182.6 328.2L185.7 333.8L186.8 340.5L185.7 347.4L183.6 354.4" fill="none" stroke="#8a8a82" stroke-opacity=".24" stroke-width="1.1" stroke-linecap="round" stroke-linejoin="round"/></g>
<path d="M25.9 86.9L25.9 134.0L30.1 134.8L33.3 139.8L37.5 136.5L42.0 141.9L45.4 148.6L49.2 151.6L48.8 155.0M63.6 175.7L122.9 175.7L123.9 176.3L128.6 177.6L132.2 178.2L134.9 178.9M162.9 190.5L165.6 188.1L173.0 188.1L174.5 186.9L176.2 183.2L177.9 180.7L179.8 181.1L180.9 181.7L180.9 185.7L182.1 187.5M76.5 222.2L81.6 221.7L89.4 225.2L95.3 225.2L95.3 223.9L98.9 223.9L102.3 226.9L103.2 229.3L106.1 230.8L107.6 228.9L109.7 228.9L112.1 232.5L113.8 234.4L114.6 237.0L118.6 238.2M129.2 264.0L130.3 260.5L133.0 260.5L131.8 257.8L131.8 256.7L135.6 256.7L137.5 255.1M135.6 256.7L135.6 260.9L137.5 261.3M135.4 264.2L138.1 265.3L138.7 266.4M139.6 267.2L142.3 265.3L144.9 263.3L148.3 262.9M143.0 271.4L145.1 271.6L147.2 271.8M148.9 277.8L148.9 274.8M215.2 286.1L213.0 289.9L208.8 290.1L205.8 290.8L201.6 291.8L197.8 292.0L197.6 289.5L197.4 284.0L195.3 285.5L191.5 286.5L188.9 286.5L188.9 290.1L185.7 293.3L182.8 292.5L176.4 291.4L177.5 297.1L176.2 304.1L169.9 305.6L167.7 310.9L170.3 315.2L175.2 315.2L175.2 318.4L177.3 318.4L185.9 316.3L186.8 320.6L196.3 324.5L197.4 330.0L201.2 330.0L202.0 333.8L201.6 338.2L201.8 342.8L206.5 343.5L208.8 350.9L210.5 354.9L206.3 357.5L202.5 362.1L205.8 364.1L211.4 370.9M173.5 269.8L169.9 275.4L171.1 278.0L172.0 280.1L176.2 280.1L181.5 281.8L180.9 285.5L182.6 290.8L182.8 292.5M157.4 292.0L160.3 293.3L164.6 295.0L165.2 295.2L167.7 297.1L169.9 299.9L172.4 299.7L175.6 300.3L176.2 303.9M154.4 302.2L154.4 304.3L156.7 305.6L158.2 304.5L159.3 301.8L163.5 299.7L165.2 295.2M177.3 318.4L178.8 321.7L178.3 326.0L177.3 328.2L178.3 330.4L177.3 332.6L175.4 334.4M177.3 332.6L179.4 337.1L180.0 342.8L182.6 345.1L179.4 349.7L178.3 355.6L176.2 361.6L175.6 369.1L176.2 374.2L174.1 380.8L172.6 387.5L172.0 396.0M182.6 344.6L184.7 342.3L187.9 343.2L191.7 343.2L195.3 346.9L201.6 349.7L202.5 350.9L200.6 354.9L205.8 355.1L208.8 351.1M191.7 343.2L192.5 339.4L197.6 336.7L201.2 337.8L201.8 338.7M202.5 362.1L201.2 366.6L200.8 371.4M197.4 276.9L194.6 282.3L195.9 284.0L197.4 284.0M203.3 282.5L203.1 287.8L204.8 291.0M210.1 282.9L209.0 288.6L208.8 290.1M319.7 215.6L320.8 219.7L321.9 222.9L316.8 225.9L312.8 228.6L306.0 231.5L306.0 234.9L314.2 240.3L326.9 249.3L326.9 250.2L331.0 253.8L331.4 254.0L336.7 252.9L340.3 250.0L349.8 243.8L345.6 241.5L344.5 237.3L345.4 233.2L344.5 227.9L343.5 223.4L340.3 218.9L342.0 216.3L342.4 210.8M306.0 233.9L296.5 233.9M306.0 234.9L306.0 238.0L299.0 238.0L299.0 243.8L296.9 244.9L296.9 248.8L288.4 248.8M314.2 240.3L310.6 240.3L312.8 259.6L312.8 261.8L304.3 262.0L301.1 262.4L298.6 263.3L294.8 259.4L289.5 260.5M344.5 227.9L346.2 226.2L348.7 222.2L348.7 220.4M349.8 243.8L354.5 245.9L356.2 244.9L375.2 252.9L375.2 251.8L377.3 251.8L377.3 247.2L377.3 224.4M377.3 247.2L402.5 247.2M356.2 244.9L357.2 249.5L357.2 258.7L353.0 264.0L353.2 265.7L345.6 266.8L339.2 267.2L332.9 265.7L332.0 270.1M333.3 253.8L333.3 259.4L331.8 262.0L326.5 262.9L324.8 262.9L320.2 264.6L315.1 267.7L312.8 272.9M375.2 252.9L375.2 261.3L372.9 261.8L372.0 267.2L371.0 271.6L372.9 271.8L376.3 276.5L381.6 274.6L385.8 274.2L391.1 274.2L394.3 272.2L396.2 274.8L396.6 276.9M402.5 247.2L402.7 256.2L401.7 264.4L401.0 268.1L398.5 271.6L396.6 276.9L394.3 278.0L398.5 283.6L400.6 285.7L404.8 287.4L408.0 287.6L411.2 286.7L413.3 286.1L419.7 284.4L426.0 278.0L423.9 278.0L415.4 275.0L414.8 271.8L415.9 270.5M401.7 264.4L404.8 263.5L409.1 264.0L414.2 268.3M413.1 286.7L411.2 289.1L411.2 296.9L412.5 298.6M396.4 286.1L398.5 290.8L397.4 292.5L396.4 294.6L396.4 297.1L404.0 301.4L407.4 305.0M396.4 286.1L400.6 285.7M396.4 286.1L390.0 287.2L389.6 287.6M350.2 307.3L352.1 304.7L354.9 305.2L358.1 303.5L358.7 299.7L362.1 296.1L362.5 292.9L363.8 287.6L365.7 284.2L372.0 286.3L376.3 284.2L382.4 284.2L386.9 285.7L389.6 287.6L390.5 290.3L387.3 293.3L387.1 298.0L385.8 300.7L386.6 304.3L386.9 307.7L389.4 312.4L385.6 313.1L384.5 314.8L384.9 317.4L384.5 320.2L387.5 321.0L387.5 323.6L384.3 321.5L382.0 319.7L378.2 318.9L375.8 319.1L375.2 318.2L371.4 318.9L370.6 315.2L370.8 310.5L365.7 309.9L364.6 312.0L361.4 312.2L359.5 307.7L352.3 307.5L350.2 307.3M375.2 318.2L375.2 322.8L371.0 322.8L371.0 329.8L373.9 332.9M349.4 332.0L353.0 331.5L354.0 332.4L363.6 332.4L368.9 333.5L373.9 332.9L378.0 333.3M368.9 333.8L368.9 342.8L366.7 342.8L366.7 357.8L360.4 357.0L359.3 358.2M366.7 349.2L368.4 353.9L372.5 350.9L378.4 351.3L381.3 346.7L386.6 343.2L390.7 343.7L392.1 348.5L392.1 353.9L394.0 353.9M378.0 333.3L381.6 333.5L385.6 329.1L388.8 328.4L394.0 330.9L393.8 336.0L393.2 341.2L390.7 343.7M378.0 333.3L379.9 337.3L383.0 339.6L386.6 343.2M398.3 319.7L403.8 319.9L409.9 317.4M389.4 312.4L394.0 315.0L396.4 315.2L397.6 319.7L398.3 319.7L400.2 324.9L398.5 330.9L397.0 325.8L394.7 324.9L394.3 321.7L394.9 318.0L394.0 315.0M388.8 328.4L388.3 326.7L394.7 324.9M387.1 298.0L389.0 297.1L396.2 297.1M389.4 312.4L386.6 304.3M389.0 297.1L389.6 300.1L389.0 304.3L386.6 304.3M342.6 284.8L345.1 280.6L348.7 281.0L351.9 276.9L352.6 273.7L355.3 270.5L354.5 268.5L353.2 265.7M355.3 270.5L357.2 273.7L354.0 273.7L357.2 279.1L355.1 282.3L355.5 285.3L358.7 290.3L358.5 291.4L362.1 296.1M357.2 279.1L363.8 278.0L364.6 275.9L368.9 274.8L372.9 271.8M372.9 271.8L374.6 276.5L378.0 279.5L382.4 284.2M345.1 290.1L348.3 290.3L352.6 290.3L355.1 290.3L358.7 290.3M348.3 290.3L348.3 292.9L345.1 292.9M347.9 303.3L349.4 302.4L351.5 299.7L354.9 299.2L354.9 297.8L353.6 295.4L355.1 292.9L352.6 292.2L352.6 290.3M289.0 268.5L291.6 268.1L295.4 268.1L300.3 268.5L304.7 268.5L306.8 270.9L307.5 273.3L306.2 278.6L308.5 281.6L308.5 285.7M292.6 271.6L295.4 270.1L295.4 268.1M300.3 268.5L300.3 267.2L298.6 263.3M296.2 275.9L297.9 273.9L301.1 273.7L302.2 276.9L300.1 280.4M302.2 276.9L304.3 279.3L306.2 278.6M307.5 273.3L312.8 272.9L318.5 271.6L324.4 271.4L326.1 271.6L329.5 269.0L332.0 270.1M318.5 271.6L318.7 274.8L317.6 284.2M324.4 271.4L325.5 276.9L326.9 282.1M326.1 271.6L327.8 275.9L327.8 281.8M330.1 281.4L330.3 275.9L332.0 270.1M324.8 262.9L329.5 269.0M305.6 197.1L311.3 198.0L309.8 202.5L308.5 206.6L308.7 210.0M320.6 192.8L325.9 194.8L331.2 195.7M340.3 191.6L339.0 187.5L337.3 184.2L339.2 180.4L341.8 175.7L337.5 174.0L333.3 172.4L329.7 168.7M337.5 174.0L337.1 169.7L339.4 161.1M331.6 167.7L336.7 168.4L337.1 169.7M354.5 159.0L355.5 169.1L350.2 171.4L353.6 176.6L351.9 180.4L345.6 180.4L340.5 180.1M339.2 185.4L346.6 182.3L353.4 183.5L353.4 186.3M353.4 183.5L358.5 182.6L360.4 178.9L356.2 175.7L353.6 176.6M366.3 157.2L373.1 157.6L374.4 165.7L375.2 170.7L372.2 175.3L364.6 174.0L355.5 169.1M375.2 170.7L374.4 167.4L381.6 167.0L390.0 165.3L396.4 164.6L399.8 171.1L409.1 173.7L408.4 179.5L405.3 181.7M372.2 175.3L372.9 178.9L380.7 177.9L384.1 183.5L384.1 186.6L387.3 187.2M374.4 159.0L380.7 152.4L384.1 150.5L389.8 152.8L393.6 160.4L390.0 165.3M374.4 165.7L374.4 159.0L372.7 155.0L368.9 153.9M368.9 150.9L377.3 150.1L384.1 150.5M375.8 143.9L382.4 145.1L383.3 137.8M382.4 145.1L384.1 150.5M383.7 133.1L391.1 122.4L387.9 108.7L385.8 90.5M375.6 108.2L374.6 96.9L368.0 89.9M348.1 139.0L350.4 131.0L350.2 119.6L355.1 109.7L359.3 96.9L367.0 89.9M372.9 178.9L368.9 184.5L372.0 189.6L372.5 191.6L378.4 191.9L384.9 191.9M360.4 178.9L364.6 179.5L372.9 178.9M358.5 182.6L364.2 185.4L368.9 184.5M364.2 185.4L364.6 188.4L365.5 192.5L367.8 194.6L371.8 196.0L371.8 198.8L380.1 197.7L383.7 196.8M353.4 186.3L356.8 186.6L359.3 183.8M357.8 187.5L360.4 187.5L364.6 188.4M365.5 197.1L368.0 200.0L366.7 203.3M368.0 200.0L371.8 198.8M379.4 200.2L380.1 197.7M412.3 198.3L416.5 199.4L419.2 203.3L418.2 210.6L414.2 210.3L402.1 211.1L401.0 213.2M414.2 210.3L411.2 217.4L406.5 219.9L402.3 222.7L399.8 221.7M406.5 219.9L407.4 223.2L402.7 224.7L404.8 227.1L403.8 228.4L400.6 230.3L398.5 229.8M407.4 223.2L409.9 223.7L419.0 230.3L422.8 230.6L425.4 232.0L426.9 232.0M419.2 210.0L421.8 213.7L420.5 218.4L425.4 225.9L427.3 228.4M419.2 203.3L426.0 203.6L427.9 206.8M409.1 192.8L415.4 193.4L422.6 197.1L427.3 197.4M416.5 199.4L422.6 197.1M419.7 198.8L422.8 205.2L419.2 203.3M438.5 209.8L443.0 207.9L449.9 209.2L454.0 211.6L453.5 217.1L452.5 219.1L453.3 224.7L455.2 226.4L453.3 228.9L458.4 235.1L454.8 239.8M453.3 228.9L464.8 228.6L471.1 223.7L472.6 218.4L475.1 212.9L482.1 210.6M454.0 214.3L460.9 212.2L465.2 209.5L471.5 210.3L476.0 207.9L482.1 210.0M415.0 259.8L417.5 257.6L423.9 258.5L434.5 254.0L440.8 251.8L442.3 247.2L441.3 245.6L435.5 245.2L433.6 241.9M434.5 254.0L436.8 259.4M443.0 240.5L442.5 242.6L442.3 247.2M468.8 243.3L474.7 241.5L471.5 235.1L476.8 232.7L480.8 227.9L482.3 222.2L481.1 218.4L489.1 214.5L491.6 222.2L495.9 227.9L502.2 231.3L506.5 233.2L510.9 233.5L512.8 234.9L519.2 235.8L519.2 233.7L523.4 230.3L530.4 232.5M494.0 231.3L497.6 233.7L502.2 234.6L510.7 237.0L510.9 233.5M530.4 232.5L525.9 238.0L524.7 241.0L521.9 242.6L521.9 246.5L520.4 248.8L519.8 250.0M510.9 237.0L512.4 239.6L510.9 241.5L512.8 246.8M512.4 237.3L514.5 239.6L520.0 240.3L517.5 242.4L520.4 248.8M530.4 232.5L533.3 238.4L531.0 242.6L534.4 247.0L538.4 247.7L540.5 246.3L544.6 246.1L547.3 244.3L550.3 247.2L553.0 248.4M532.3 273.7L534.0 269.4L532.5 262.9L531.2 256.2L533.8 252.2L536.3 250.9L537.2 252.9L538.6 257.4L540.5 255.8L544.6 255.6L546.3 259.8L548.0 264.2L542.2 264.6L541.4 266.2L542.2 270.1M536.3 250.9L538.4 247.7M540.5 246.3L544.4 251.1L546.0 254.0L549.9 258.5L552.0 262.9L552.2 264.2L548.0 264.2M552.2 264.2L552.0 268.5L548.8 271.6L545.6 272.9M536.3 281.4L540.5 281.8M428.1 183.5L423.9 178.9L423.9 172.4L427.3 170.4L432.4 167.0L439.8 169.1L448.5 169.1L454.6 168.4L453.5 159.4L462.0 156.8L470.5 153.9L474.7 157.9L480.0 158.6L486.4 157.9L489.1 161.1L493.8 169.1L500.1 169.1L505.4 173.7L509.2 175.3L506.5 177.6L505.8 181.4L500.1 181.4L498.6 186.6L494.2 188.1L494.2 196.3L491.6 194.8L484.9 194.3L480.0 195.4L474.7 196.0L470.5 198.5L468.4 199.7L465.6 199.1L464.1 195.7L464.1 194.0L461.8 191.9L454.0 190.2L448.5 186.3L443.0 188.1L443.0 198.8L440.4 198.8L436.6 196.6M443.0 198.8L445.1 198.8L448.2 194.8L451.4 196.3L451.6 198.5L455.4 199.4L456.5 202.5L460.7 205.5L465.2 209.5M494.2 196.3L489.5 199.7L481.1 201.9L480.6 203.8L483.0 206.6L482.1 210.0M470.5 198.5L473.6 201.9L480.6 203.8M510.3 175.0L520.2 169.7L531.4 172.4L532.5 165.7L540.8 168.1L540.8 171.1L550.9 173.1L558.3 175.0L566.8 171.7L571.5 173.1L569.1 179.2L578.0 182.9L572.9 183.8L564.9 188.7L561.3 191.9L559.4 192.8L546.7 198.0L537.8 194.8L528.5 194.8L526.4 190.2L516.8 187.5L517.0 183.2L514.9 179.2L510.7 176.9L510.3 175.0M571.5 173.1L573.8 174.0L578.0 172.4L580.1 163.6L586.1 160.4L591.1 162.9L594.5 171.7L600.9 176.0L601.7 179.8L609.6 177.9L606.2 187.8L602.4 188.4L602.2 192.5L600.9 195.7L595.4 196.8L593.0 197.4L587.8 202.2M591.4 208.4L596.2 206.3M622.9 300.5L622.9 314.3M556.4 290.8L558.3 293.1L562.6 291.8L567.4 291.2L568.9 287.6L573.1 286.1" fill="none" stroke="#d3d2ce" stroke-width=".7" stroke-linejoin="round"/>
<path d="M383.7 198.3L386.2 199.1L391.1 199.1L395.3 196.8L398.9 196.8L401.7 198.8L405.9 199.7L410.1 199.7L412.5 198.0L411.8 195.1L408.7 192.5L404.8 189.9L402.7 188.1L401.7 187.2L399.6 188.1L396.4 189.9L395.3 189.3L393.4 187.2L395.3 185.1L392.1 184.2L389.6 183.5L387.3 187.2L385.2 189.6L384.7 192.5L383.0 194.8ZM398.5 186.3L401.7 186.9L405.3 183.5L407.0 181.7L403.8 182.0L398.9 184.2ZM425.0 186.6L428.1 183.5L432.4 182.3L436.6 182.6L436.6 187.2L433.4 188.1L432.4 189.6L430.9 190.2L433.4 193.4L435.5 194.8L436.0 198.3L438.7 199.7L436.6 202.5L438.3 205.2L438.3 209.2L437.7 210.8L433.4 211.6L430.2 209.5L428.1 207.1L428.1 203.8L429.2 201.1L430.9 201.6L428.6 198.3L426.0 195.4L425.0 192.5L423.5 189.6ZM480.0 186.6L483.2 182.9L487.4 183.2L491.6 183.5L490.6 184.5L485.3 185.1L482.1 187.5ZM543.9 167.0L546.7 167.0L550.9 162.9L555.2 158.6L556.8 152.4L555.6 152.8L552.0 159.4L547.7 163.6ZM389.6 134.4L393.8 133.1L393.2 129.6L389.0 128.3L387.9 131.4ZM397.4 131.0L400.6 130.1L399.1 124.2L397.4 125.6ZM476.8 106.1L480.0 104.5L481.1 96.3L481.1 84.5L476.8 84.5L477.5 96.3ZM129.6 182.9L133.9 179.5L137.0 177.3L142.3 176.6L145.1 179.5L145.3 183.5L141.3 183.5L138.1 182.0L134.9 182.6ZM138.5 197.7L141.3 197.4L141.9 192.5L144.0 186.6L144.9 185.4L141.3 185.7L138.5 189.6L138.5 194.0ZM145.5 185.4L147.6 184.8L151.9 185.1L155.0 188.1L154.0 189.6L151.9 188.7L151.4 193.1L149.7 194.0L147.6 191.6L148.1 188.1ZM147.8 197.7L151.9 198.3L157.2 195.1L157.2 194.3L154.0 195.1L149.7 196.8ZM155.5 193.1L161.4 193.1L163.1 191.1L160.3 191.1L157.2 191.6ZM115.9 171.1L120.1 170.7L119.1 165.7L116.9 159.4L114.8 161.5L115.9 166.4ZM64.0 112.3L70.4 112.3L74.6 105.6L70.4 101.9L63.0 106.1ZM76.7 131.0L83.1 131.0L89.4 124.2L92.6 122.9L87.3 126.5L80.9 126.5L77.8 128.8ZM88.4 141.1L93.6 139.0L100.0 137.8L95.8 138.2L90.5 139.4ZM106.3 149.3L109.5 147.4L108.5 143.5L106.3 145.5ZM392.1 296.1L396.4 295.4L396.4 299.2L394.3 300.9L392.1 299.9L391.5 297.1ZM111.5 120.2L110.7 119.5L109.3 119.5L108.1 120.3L107.4 121.6L107.5 122.7L108.4 123.4L109.7 123.4L111.0 122.6L111.7 121.4ZM114.8 134.0L114.6 132.6L113.9 131.7L113.2 131.7L112.5 132.6L112.3 134.0L112.5 135.4L113.2 136.2L113.9 136.2L114.6 135.4ZM125.6 116.4L124.9 115.9L123.2 115.7L121.1 115.9L119.5 116.4L118.9 117.0L119.5 117.5L121.3 117.7L123.3 117.5L125.0 117.0ZM118.6 123.3L118.3 122.6L117.5 122.2L116.4 122.2L115.6 122.6L115.2 123.3L115.6 124.0L116.4 124.4L117.5 124.4L118.3 124.0ZM109.5 134.0L109.3 133.0L108.8 132.3L108.1 132.3L107.6 133.0L107.4 134.0L107.6 135.0L108.1 135.6L108.8 135.6L109.3 135.0ZM107.4 142.7L107.1 141.6L106.4 140.9L105.5 140.9L104.7 141.6L104.4 142.7L104.7 143.7L105.5 144.4L106.4 144.4L107.1 143.7ZM99.8 145.9L99.5 145.0L98.9 144.5L98.1 144.5L97.5 145.0L97.2 145.9L97.5 146.7L98.1 147.2L98.9 147.2L99.5 146.7ZM103.8 154.6L103.5 154.1L102.6 153.8L101.6 153.8L100.7 154.1L100.4 154.6L100.7 155.1L101.6 155.4L102.6 155.4L103.5 155.1ZM113.3 163.3L112.5 162.1L111.7 161.5L111.1 161.7L110.9 162.6L111.3 163.9L112.0 165.1L112.9 165.7L113.5 165.5L113.6 164.6ZM116.7 169.7L117.0 168.5L116.8 167.7L116.2 167.5L115.4 168.1L114.7 169.1L114.3 170.3L114.5 171.1L115.1 171.3L116.0 170.8ZM138.3 173.1L138.1 172.3L137.4 171.8L136.7 171.8L136.0 172.3L135.8 173.1L136.0 173.8L136.7 174.3L137.4 174.3L138.1 173.8ZM125.0 174.7L124.7 174.1L124.1 173.8L123.3 173.8L122.7 174.1L122.4 174.7L122.7 175.3L123.3 175.6L124.1 175.6L124.7 175.3ZM130.9 171.4L130.5 171.1L129.6 170.9L128.4 170.9L127.5 171.1L127.1 171.4L127.5 171.8L128.4 172.0L129.6 172.0L130.5 171.8ZM173.2 176.9L173.0 176.5L172.4 176.3L171.6 176.3L170.9 176.5L170.7 176.9L170.9 177.4L171.6 177.6L172.4 177.6L173.0 177.4ZM169.0 169.0L168.2 168.2L167.4 167.9L166.9 168.1L166.9 168.9L167.3 169.8L168.1 170.6L168.9 170.9L169.4 170.7L169.5 170.0ZM178.3 157.9L178.0 157.0L177.2 156.4L176.1 156.4L175.3 157.0L174.9 157.9L175.3 158.9L176.1 159.5L177.2 159.5L178.0 158.9ZM190.4 158.3L190.0 157.5L189.1 157.1L187.9 157.1L186.9 157.5L186.6 158.3L186.9 159.0L187.9 159.5L189.1 159.5L190.0 159.0ZM180.0 167.7L179.8 167.0L179.3 166.6L178.6 166.6L178.1 167.0L177.9 167.7L178.1 168.4L178.6 168.8L179.3 168.8L179.8 168.4ZM177.9 105.1L177.4 103.8L176.0 103.0L174.3 103.0L172.9 103.8L172.4 105.1L172.9 106.3L174.3 107.1L176.0 107.1L177.4 106.3ZM175.6 112.3L175.2 111.4L174.3 110.8L173.1 110.8L172.1 111.4L171.8 112.3L172.1 113.1L173.1 113.7L174.3 113.7L175.2 113.1ZM81.8 153.5L81.5 153.2L80.6 153.0L79.6 153.0L78.7 153.2L78.4 153.5L78.7 153.8L79.6 154.0L80.6 154.0L81.5 153.8ZM87.9 141.1L87.7 140.6L87.2 140.3L86.5 140.3L86.0 140.6L85.8 141.1L86.0 141.5L86.5 141.8L87.2 141.8L87.7 141.5ZM156.1 159.4L156.1 159.4L156.1 159.3L156.1 159.3L156.1 159.4L156.1 159.4L156.1 159.4L156.1 159.4L156.1 159.4L156.1 159.4ZM97.1 115.2L96.5 114.9L95.2 115.1L93.7 115.8L92.6 116.6L92.3 117.2L92.9 117.5L94.2 117.3L95.7 116.7L96.8 115.9ZM91.5 109.3L91.0 108.9L89.9 108.8L88.6 109.0L87.7 109.6L87.3 110.2L87.8 110.6L88.9 110.7L90.2 110.4L91.2 109.9ZM107.2 112.8L106.8 112.3L105.9 111.9L104.7 111.9L103.7 112.3L103.4 112.8L103.7 113.3L104.7 113.6L105.9 113.6L106.8 113.3ZM121.4 125.6L121.1 125.1L120.5 124.7L119.7 124.7L119.1 125.1L118.8 125.6L119.1 126.1L119.7 126.5L120.5 126.5L121.1 126.1ZM112.6 144.3L112.4 143.5L111.9 143.0L111.3 143.0L110.9 143.5L110.7 144.3L110.9 145.0L111.3 145.5L111.9 145.5L112.4 145.0ZM118.6 152.0L118.4 151.3L117.9 150.9L117.2 150.9L116.7 151.3L116.5 152.0L116.7 152.7L117.2 153.1L117.9 153.1L118.4 152.7ZM126.8 159.4L126.5 159.0L125.8 158.8L125.0 158.8L124.3 159.0L124.0 159.4L124.3 159.7L125.0 159.9L125.8 159.9L126.5 159.7ZM134.3 167.4L134.0 167.1L133.3 166.9L132.4 166.9L131.6 167.1L131.3 167.4L131.6 167.7L132.4 167.9L133.3 167.9L134.0 167.7ZM165.8 153.9L165.6 153.4L165.0 153.1L164.2 153.1L163.5 153.4L163.3 153.9L163.5 154.4L164.2 154.7L165.0 154.7L165.6 154.4ZM174.5 149.6L174.1 149.3L173.3 149.4L172.3 149.7L171.7 150.1L171.5 150.6L172.0 150.9L172.8 150.9L173.7 150.6L174.4 150.1ZM168.0 141.1L167.7 140.6L167.1 140.3L166.3 140.3L165.7 140.6L165.4 141.1L165.7 141.5L166.3 141.8L167.1 141.8L167.7 141.5ZM185.1 163.2L184.9 162.8L184.4 162.6L183.7 162.6L183.2 162.8L183.0 163.2L183.2 163.7L183.7 163.9L184.4 163.9L184.9 163.7ZM73.7 129.2L73.5 128.8L72.9 128.6L72.1 128.6L71.4 128.8L71.2 129.2L71.4 129.6L72.1 129.8L72.9 129.8L73.5 129.6ZM68.5 121.0L68.2 120.6L67.6 120.4L66.8 120.4L66.2 120.6L65.9 121.0L66.2 121.3L66.8 121.6L67.6 121.6L68.2 121.3ZM77.2 115.5L76.8 115.3L75.9 115.4L75.0 115.8L74.2 116.4L74.1 116.9L74.5 117.2L75.4 117.1L76.4 116.7L77.1 116.1ZM60.6 133.1L60.5 132.8L60.0 132.6L59.5 132.6L59.1 132.8L58.9 133.1L59.1 133.4L59.5 133.6L60.0 133.6L60.5 133.4Z" fill="#abc7ef"/>
</g>
<g font-weight="bold" font-size="9.9" fill="none" stroke="#fff" stroke-width="1.6" stroke-linejoin="round" stroke-opacity=".5">
<text x="71.7" y="163.6" textLength="81.6" lengthAdjust="spacingAndGlyphs">NORTH AMERICA</text>
<text x="357.9" y="172.3" textLength="37.1" lengthAdjust="spacingAndGlyphs">EUROPE</text>
<text x="535.8" y="157.4" textLength="21.3" lengthAdjust="spacingAndGlyphs">ASIA</text>
<text x="360.8" y="286.6" textLength="34.2" lengthAdjust="spacingAndGlyphs">AFRICA</text>
<text x="176.4" y="332.4" textLength="80.4" lengthAdjust="spacingAndGlyphs">SOUTH AMERICA</text>
<text x="596.7" y="346.4" textLength="53.1" lengthAdjust="spacingAndGlyphs">AUSTRALIA</text>
</g>
<g font-weight="bold" font-size="9.9" fill="#1a1a1a" stroke="#1a1a1a" stroke-width=".15">
<text x="71.7" y="163.6" textLength="81.6" lengthAdjust="spacingAndGlyphs">NORTH AMERICA</text>
<text x="357.9" y="172.3" textLength="37.1" lengthAdjust="spacingAndGlyphs">EUROPE</text>
<text x="535.8" y="157.4" textLength="21.3" lengthAdjust="spacingAndGlyphs">ASIA</text>
<text x="360.8" y="286.6" textLength="34.2" lengthAdjust="spacingAndGlyphs">AFRICA</text>
<text x="176.4" y="332.4" textLength="80.4" lengthAdjust="spacingAndGlyphs">SOUTH AMERICA</text>
<text x="596.7" y="346.4" textLength="53.1" lengthAdjust="spacingAndGlyphs">AUSTRALIA</text>
</g>
<g fill="#5474b0" font-size="10.2">
<text x="217.6" y="226" textLength="42" lengthAdjust="spacing">Atlantic</text><text x="222.8" y="237.6" textLength="32" lengthAdjust="spacing">Ocean</text>
<text x="476" y="341.6" textLength="32.6" lengthAdjust="spacing">Indian</text><text x="476.4" y="352.8" textLength="32" lengthAdjust="spacing">Ocean</text>
</g>
<g fill="#14427e" fill-opacity=".62" stroke="#0e2c52" stroke-width="1.15"><circle cx="107.0" cy="244.4" r="11.0"/><circle cx="132.0" cy="263.0" r="10.0"/><circle cx="141.0" cy="263.0" r="6.4"/><circle cx="136.0" cy="267.4" r="4.0"/><circle cx="144.0" cy="267.0" r="3.6"/><circle cx="136.4" cy="261.6" r="2.6"/><circle cx="152.6" cy="246.0" r="4.2"/><circle cx="159.0" cy="242.6" r="2.3"/><circle cx="160.4" cy="257.0" r="3.0"/><circle cx="170.6" cy="255.4" r="3.5"/><circle cx="175.0" cy="255.6" r="2.3"/><circle cx="184.0" cy="279.8" r="4.4"/><circle cx="169.7" cy="288.0" r="3.7"/><circle cx="156.0" cy="299.6" r="2.7"/><circle cx="165.4" cy="311.4" r="2.5"/><circle cx="211.4" cy="319.0" r="3.6"/></g>
<g fill="#3b4c74" stroke="#222d4e" stroke-width=".9"><circle cx="365.7" cy="182.8" r="2.0"/><circle cx="376.6" cy="186.4" r="1.9"/><circle cx="492.6" cy="248.0" r="2.0"/><circle cx="544.4" cy="213.0" r="1.9"/></g>
<g fill="#2b3654"><circle cx="119.4" cy="125.6" r="2.05"/><circle cx="114.0" cy="205.4" r="2.05"/><circle cx="318.6" cy="160.4" r="2.05"/><circle cx="336.0" cy="166.4" r="2.05"/><circle cx="346.4" cy="170.4" r="2.05"/><circle cx="329.4" cy="184.6" r="2.05"/><circle cx="316.6" cy="203.0" r="2.05"/><circle cx="350.0" cy="194.0" r="2.05"/><circle cx="382.9" cy="162.1" r="2.05"/><circle cx="390.6" cy="175.6" r="2.05"/><circle cx="364.8" cy="166.9" r="2.05"/><circle cx="361.6" cy="191.8" r="2.05"/><circle cx="367.8" cy="192.2" r="2.05"/><circle cx="366.1" cy="195.8" r="2.05"/><circle cx="366.7" cy="201.5" r="2.05"/><circle cx="399.4" cy="206.6" r="2.05"/><circle cx="417.2" cy="198.2" r="2.05"/><circle cx="418.0" cy="200.2" r="2.05"/><circle cx="418.9" cy="202.2" r="2.05"/><circle cx="466.0" cy="180.0" r="2.05"/><circle cx="460.0" cy="200.4" r="2.05"/><circle cx="531.6" cy="115.4" r="2.05"/><circle cx="400.2" cy="220.4" r="2.05"/><circle cx="402.4" cy="227.2" r="2.05"/><circle cx="387.6" cy="238.4" r="2.05"/><circle cx="418.6" cy="244.0" r="2.05"/><circle cx="445.0" cy="251.2" r="2.05"/><circle cx="425.6" cy="261.6" r="2.05"/><circle cx="464.6" cy="220.6" r="2.05"/><circle cx="470.0" cy="231.4" r="2.05"/><circle cx="502.4" cy="234.2" r="2.05"/><circle cx="515.8" cy="244.6" r="2.05"/><circle cx="406.0" cy="275.0" r="2.05"/><circle cx="405.6" cy="293.6" r="2.05"/><circle cx="594.0" cy="203.6" r="2.05"/><circle cx="595.6" cy="213.4" r="2.05"/><circle cx="566.2" cy="299.0" r="2.05"/><circle cx="422.4" cy="337.6" r="2.05"/><circle cx="330.6" cy="234.6" r="2.05"/><circle cx="344.0" cy="220.4" r="2.05"/><circle cx="341.4" cy="276.4" r="2.05"/><circle cx="346.6" cy="293.4" r="2.05"/><circle cx="349.0" cy="299.0" r="2.05"/><circle cx="274.2" cy="264.6" r="2.05"/><circle cx="199.6" cy="286.4" r="2.05"/><circle cx="205.4" cy="288.0" r="2.05"/><circle cx="205.4" cy="370.6" r="2.05"/><circle cx="173.2" cy="368.0" r="2.05"/><circle cx="186.4" cy="376.0" r="2.05"/><circle cx="186.0" cy="334.0" r="2.05"/><circle cx="154.6" cy="278.8" r="2.05"/><circle cx="146.0" cy="275.5" r="2.05"/></g>
<!-- bing logo -->
<rect x="20.4" y="374.4" width="3.7" height="3.7" fill="#f25022"/><rect x="24.6" y="374.4" width="3.7" height="3.7" fill="#7fba00"/>
<rect x="20.4" y="378.6" width="3.7" height="3.7" fill="#00a4ef"/><rect x="24.6" y="378.6" width="3.7" height="3.7" fill="#ffb900"/>
<text x="30" y="380.6" font-size="5.6" fill="#737373">Microsoft Bing</text>
<g font-size="6.2" fill="#3a3a3a"><text x="445" y="382.4" textLength="141.6" lengthAdjust="spacingAndGlyphs">© 2025 TomTom, © 2025 Microsoft Corporation,</text>
<text x="588.9" y="382.4" textLength="53.9" lengthAdjust="spacingAndGlyphs" fill="#55709f" text-decoration="underline">© OpenStreetMap</text>
<text x="649.3" y="382.4" textLength="16.8" lengthAdjust="spacingAndGlyphs" fill="#55709f" text-decoration="underline">Terms</text></g>
</g>
</svg>

<div class="h" style="left:17px;top:84.5px">Country of Citizenship</div>
<!-- table card -->
<div class="abs" id="tbl">
<div id="th"><span class="c1">Country of Citizenship</span><span class="c2">Encounters</span></div>
<div id="sp"></div>
<div class="ra"><span class="c1">Mexico</span><span class="c2">1777</span></div><div class="rb"><span class="c1">Montenegro</span><span class="c2">1</span></div><div class="ra"><span class="c1">Nepal</span><span class="c2">1</span></div><div class="rb"><span class="c1">Netherlands</span><span class="c2">2</span></div><div class="ra"><span class="c1">Nicaragua</span><span class="c2">155</span></div><div class="rb"><span class="c1">Nigeria</span><span class="c2">1</span></div><div class="ra"><span class="c1">Oman</span><span class="c2">1</span></div><div class="rb"><span class="c1">Pakistan</span><span class="c2">5</span></div><div class="ra"><span class="c1">Panama</span><span class="c2">1</span></div><div class="rb"><span class="c1">Peru</span><span class="c2">20</span></div><div class="ra"><span class="c1">Poland</span><span class="c2">1</span></div><div class="rb"><span class="c1">Romania</span><span class="c2">4</span></div><div class="ra"><span class="c1">Russia</span><span class="c2">7</span></div><div class="rb"><span class="c1">Saudi Arabia</span><span class="c2">1</span></div><div class="ra"><span class="c1">Serbia</span><span class="c2">1</span></div><div class="rb"><span class="c1">Spain</span><span class="c2">2</span></div><div class="ra"><span class="c1">Suriname</span><span class="c2">1</span></div><div class="rb"><span class="c1">The Bahamas</span><span class="c2">10</span></div><div class="ra"><span class="c1">Tunisia</span><span class="c2">1</span></div><div class="rb"><span class="c1">Turkey</span><span class="c2">2</span></div><div class="ra"><span class="c1">Ukraine</span><span class="c2">3</span></div><div class="rb"><span class="c1">United Kingdom</span><span class="c2">3</span></div><div class="ra dbl"><span class="c1">United States of<br>America</span><span class="c2">2</span></div><div class="rb"><span class="c1">Unknown</span><span class="c2">104</span></div><div class="ra"><span class="c1">Uruguay</span><span class="c2">2</span></div><div class="rb"><span class="c1">Uzbekistan</span><span class="c2">1</span></div><div class="ra"><span class="c1">Venezuela</span><span class="c2">152</span></div><div class="rb"><span class="c1">Yemen</span><span class="c2">1</span></div>
<div id="tot"><span class="c1">Total</span><span class="c2">5249</span></div>
</div>

<!-- Age card -->
<div class="h" style="left:17px;top:404.5px">Age</div>
<div class="t" style="left:15.5px;top:462px;width:10px;color:#3d4a6d;font-size:8.6px;transform:rotate(-90deg);transform-origin:5px 5px;text-align:center"><span style="display:inline-block;width:80px;margin-left:-35px;text-align:center">Total Encounters</span></div>
<div class="t" style="left:31.5px;top:462.5px">1K</div>
<div class="t" style="left:30.5px;top:502px">0K</div>
<div class="t" style="left:55.8px;width:40px;text-align:center;top:488.8px">0.1K</div>
<div class="t" style="left:89.3px;width:40px;text-align:center;top:448px">1.1K</div>
<div class="t" style="left:122.7px;width:40px;text-align:center;top:453.8px">1.0K</div>
<div class="t" style="left:156.3px;width:40px;text-align:center;top:430.5px">1.6K</div>
<div class="t" style="left:190px;width:40px;text-align:center;top:451px">1.1K</div>
<div class="t" style="left:223.5px;width:40px;text-align:center;top:477.6px">0.4K</div>
<div class="t" style="left:55.8px;width:40px;text-align:center;top:510.3px">0-17</div>
<div class="t" style="left:89.3px;width:40px;text-align:center;top:510.3px">18-24</div>
<div class="t" style="left:122.7px;width:40px;text-align:center;top:510.3px">25-29</div>
<div class="t" style="left:156.3px;width:40px;text-align:center;top:510.3px">30-39</div>
<div class="t" style="left:190px;width:40px;text-align:center;top:510.3px">40-49</div>
<div class="t" style="left:223.5px;width:40px;text-align:center;top:510.3px">50+</div>
<div class="t" style="left:139.8px;width:40px;text-align:center;top:522.2px;color:#3d4a6d">Age</div>

<!-- Sex card -->
<div class="h" style="left:293px;top:404.5px">Sex</div>
<!-- Gang card -->
<div class="h" style="left:500px;top:404.5px">Gang Affiliation?</div>
<svg class="abs" style="left:280px;top:400px" width="420" height="140" viewBox="280 400 420 140">
<path d="M362.50 437.40A39.00 39.00 0 1 1 339.08 445.21L348.27 457.45A23.70 23.70 0 1 0 362.50 452.70Z" fill="#113a65"/><path d="M339.08 445.21A39.00 39.00 0 0 1 362.50 437.40L362.50 452.70A23.70 23.70 0 0 0 348.27 457.45Z" fill="#3f6787"/>
<path d="M564.70 437.90A38.50 38.50 0 1 1 527.29 467.29L542.35 470.96A23.00 23.00 0 1 0 564.70 453.40Z" fill="#113a65"/><path d="M527.29 467.29A38.50 38.50 0 0 1 563.56 437.92L564.02 453.41A23.00 23.00 0 0 0 542.35 470.96Z" fill="#3f6787"/><path d="M563.56 437.92A38.50 38.50 0 0 1 564.70 437.90L564.70 453.40A23.00 23.00 0 0 0 564.02 453.41Z" fill="#7d9192"/>
<g fill="none" stroke="#b0b0b0" stroke-width="0.8">
<path d="M345.5 433.5H356.3V437.6"/><path d="M375.8 514.6V519H386.4"/>
<path d="M564.5 437.6V433.5H574.2"/><path d="M540.7 436.7H551V440.5"/><path d="M532 512.5H541.7V509"/>
</g>
<g fill="#113a65"><circle cx="436.5" cy="473.3" r="3.4"/><circle cx="634.1" cy="458.7" r="3.4"/></g>
<g fill="#3f6787"><circle cx="436.5" cy="492.4" r="3.4"/><circle cx="634.1" cy="477.2" r="3.4"/></g>
<circle cx="634.1" cy="496" r="3.4" fill="#7d9192"/>
</svg>
<div class="t" style="left:304px;width:40px;text-align:right;top:423.6px">538</div>
<div class="t" style="left:294px;width:50px;text-align:right;top:433.6px">(10.25%)</div>
<div class="t" style="left:388.8px;top:508.6px">4711</div>
<div class="t" style="left:388.8px;top:519px">(89.75%)</div>
<div class="lg" style="left:432.6px;top:452px;font-weight:bold;color:#333">Sex</div>
<div class="lg" style="left:442.6px;top:467.2px">Male</div>
<div class="lg" style="left:442.6px;top:486.3px">Female</div>

<div class="t" style="left:576.7px;top:423.8px">25</div>
<div class="t" style="left:576.7px;top:434.1px">(0.48%)</div>
<div class="t" style="left:487.6px;width:50px;text-align:right;top:426.3px">1088</div>
<div class="t" style="left:487.6px;width:50px;text-align:right;top:436.6px">(20.73%)</div>
<div class="t" style="left:479px;width:50px;text-align:right;top:502.6px">4136</div>
<div class="t" style="left:479px;width:50px;text-align:right;top:513.1px">(78.8%)</div>
<div class="lg" style="left:640.3px;top:452.6px">No</div>
<div class="lg" style="left:640.3px;top:471.1px">Unknown</div>
<div class="lg" style="left:640.3px;top:489.9px">Yes</div>

<div class="abs" id="foot">Encounters submitted since August 1, 2025.   Last Refreshed: 10/15/2025 3:06:18 AM</div>
</body>
</html>
